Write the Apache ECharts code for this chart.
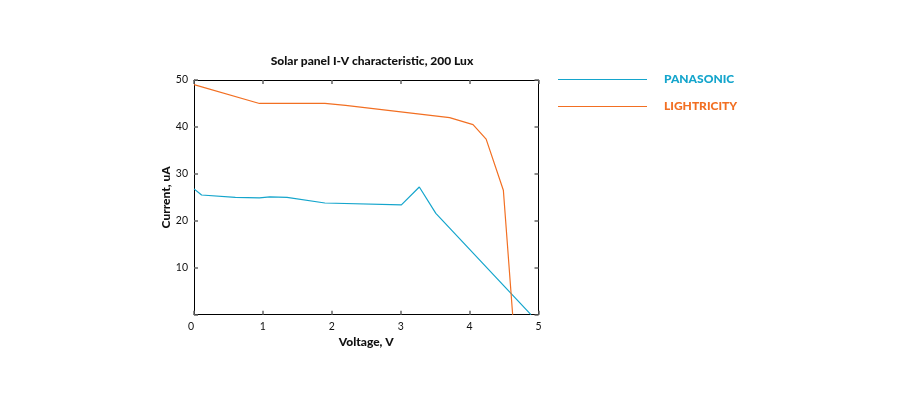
<!DOCTYPE html>
<html><head><meta charset="utf-8">
<script src="https://cdn.jsdelivr.net/npm/echarts@6/dist/echarts.min.js"></script>
<style>html,body{margin:0;padding:0;background:#fff}#c{width:900px;height:400px}</style>
</head><body><div id="c"></div>
<script>
const seriesNames = ['PANASONIC', 'LIGHTRICITY'];
const panasonicV = [0, 0.11, 0.6, 0.95, 1.1, 1.35, 1.9, 3.01, 3.27, 3.51, 4.89];
const panasonicI = [26.8, 25.5, 25.0, 24.9, 25.1, 25.0, 23.8, 23.4, 27.2, 21.6, 0];
const lightricityV = [0, 0.95, 1.9, 2.2, 3.71, 4.05, 4.24, 4.49, 4.625];
const lightricityI = [49.0, 45.0, 45.0, 44.6, 42.0, 40.5, 37.4, 26.5, 0];
const xTicks = [0, 1, 2, 3, 4, 5];
const yTicks = [10, 20, 30, 40, 50];
const colors = ['#14a5cc', '#f26f22'];

const chart = echarts.init(document.getElementById('c'));
const pair = (xs, ys) => xs.map((x, i) => [x, ys[i]]);
const font = 'Lato, "Open Sans", sans-serif';
const baseAxis = {
  min: 0,
  axisLine: {show: true, onZero: false, lineStyle: {color: '#000', width: 1}},
  axisTick: {show: true, inside: true, length: 4, lineStyle: {color: '#666', width: 1.5}},
  splitLine: {show: false}
};
chart.setOption({
  animation: false,
  backgroundColor: '#fff',
  title: {
    text: 'Solar panel I-V characteristic, 200 Lux',
    left: 367, top: 50, textAlign: 'center',
    textStyle: {fontFamily: font, fontWeight: 900, fontSize: 12, color: '#111'}
  },
  legend: {
    orient: 'vertical', left: 553, top: 67, itemGap: 12,
    itemWidth: 89, itemHeight: 1.2, icon: 'rect',
    data: seriesNames.map((n, i) => ({name: n, itemStyle: {color: colors[i]}, textStyle: {color: colors[i]}})),
    textStyle: {fontFamily: font, fontWeight: 900, fontSize: 12, padding: [0, 0, 0, 12], lineHeight: 15}
  },
  grid: {left: 194, right: 361.5, top: 80, bottom: 85.3},
  xAxis: [
    Object.assign({}, baseAxis, {
      type: 'value', max: 5, interval: 1, position: 'bottom',
      name: 'Voltage, V', nameLocation: 'middle', nameGap: 18,
      nameTextStyle: {fontFamily: font, fontWeight: 900, fontSize: 12, color: '#111'},
      axisLabel: {fontFamily: font, fontSize: 10.5, color: '#111', margin: 6, alignMinLabel: 'right',
        formatter: v => xTicks.includes(v) ? String(v) : ''}
    }),
    Object.assign({}, baseAxis, {
      type: 'value', max: 5, interval: 1, position: 'top',
      axisLabel: {show: false}
    })
  ],
  yAxis: [
    Object.assign({}, baseAxis, {
      type: 'value', max: 50, interval: 10, position: 'left',
      name: 'Current, uA', nameLocation: 'middle', nameGap: 20,
      nameTextStyle: {fontFamily: font, fontWeight: 900, fontSize: 12, color: '#111'},
      axisLabel: {fontFamily: font, fontSize: 10.5, color: '#111', margin: 6,
        formatter: v => yTicks.includes(v) ? String(v) : ''}
    }),
    Object.assign({}, baseAxis, {
      type: 'value', max: 50, interval: 10, position: 'right',
      axisLabel: {show: false}
    })
  ],
  series: [
    {name: seriesNames[0], type: 'line', data: pair(panasonicV, panasonicI), showSymbol: false, symbol: 'none',
     lineStyle: {color: colors[0], width: 1.2}, itemStyle: {color: colors[0]}},
    {name: seriesNames[1], type: 'line', data: pair(lightricityV, lightricityI), showSymbol: false, symbol: 'none',
     lineStyle: {color: colors[1], width: 1.2}, itemStyle: {color: colors[1]}}
  ]
});
</script></body></html>
